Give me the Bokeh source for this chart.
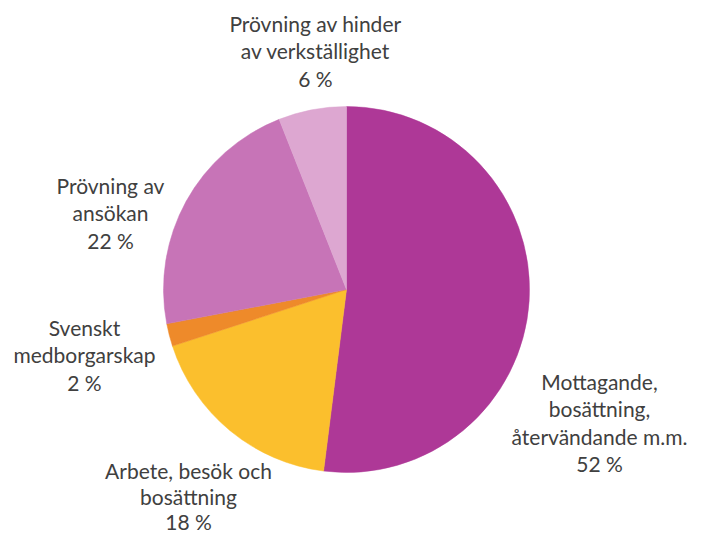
import numpy as np
from bokeh.plotting import figure
from bokeh.models import ColumnDataSource, Range1d
from bokeh.core.properties import value
from bokeh.embed import file_html
from bokeh.resources import INLINE

categories = ["Mottagande,\nbosättning,\nåtervändande m.m.",
              "Arbete, besök och\nbosättning",
              "Svenskt\nmedborgarskap",
              "Prövning av\nansökan",
              "Prövning av hinder\nav verkställighet"]
shares = [52, 18, 2, 22, 6]
colors = ["#AE3897", "#FBBF2D", "#EE8A2A", "#C774B7", "#DDA7D1"]

W, H = 702, 534
p = figure(width=W, height=H, output_backend="svg", toolbar_location=None,
           x_range=Range1d(0, W), y_range=Range1d(0, H), min_border=0)
p.axis.visible = False
p.grid.visible = False
p.outline_line_color = None
p.background_fill_color = "white"

cx, cy, r = 346, H - 289, 183
frac = np.array(shares, dtype=float) / sum(shares)
cum = np.concatenate([[0], np.cumsum(frac)])
start = np.pi / 2 - 2 * np.pi * cum[:-1]
end = np.pi / 2 - 2 * np.pi * cum[1:]
src = ColumnDataSource(dict(x=[cx] * len(shares), y=[cy] * len(shares),
                            start=start, end=end, color=colors))
p.wedge(x="x", y="y", radius=r, start_angle="start", end_angle="end",
        direction="clock", fill_color="color", line_color="color",
        line_width=0.5, source=src)

# label anchor centres (screen coords of first line centre) and line spacing
label_pos = [(599, 381), (188, 470), (84, 327), (110, 185), (315, 23)]
line_gap = [27.3, 25.5, 27.3, 27.3, 27.3]
xs, ys, txt = [], [], []
for cat, s, (lx, ly), lh in zip(categories, shares, label_pos, line_gap):
    lines = cat.split("\n") + [f"{s} %"]
    for i, t in enumerate(lines):
        xs.append(lx)
        ys.append(H - (ly + i * lh))
        txt.append(t)
p.text(x=xs, y=ys, text=txt, text_align="center", text_baseline="middle",
       text_font=value("Lato"), text_font_size="21px", text_color="#404040")

open("out.html", "w").write(file_html(p, INLINE))
